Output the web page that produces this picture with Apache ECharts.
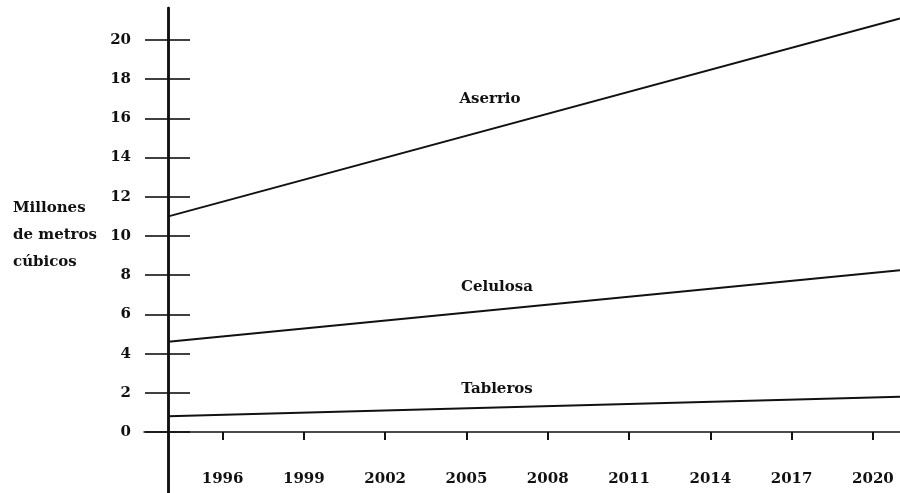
<!DOCTYPE html>
<html>
<head>
<meta charset="utf-8">
<script src="https://cdn.jsdelivr.net/npm/echarts@6/dist/echarts.min.js"></script>
<style>
  html, body { margin: 0; padding: 0; background: #fff; }
  #chart { width: 900px; height: 493px; }
</style>
</head>
<body>
<div id="chart"></div>
<script>
// Projected production (millions of cubic metres), straight trends per sector
const years = [1994, 2021];
const aserrio = [11.0, 21.1];
const celulosa = [4.6, 8.25];
const tableros = [0.8, 1.8];
const seriesNames = ['Aserrio', 'Celulosa', 'Tableros'];

// Axis tick labels
const yearTicks = [1996, 1999, 2002, 2005, 2008, 2011, 2014, 2017, 2020];
const valueTicks = [0, 2, 4, 6, 8, 10, 12, 14, 16, 18, 20];

const FONT = 'DejaVu Serif';
const INK = '#111';

const toPairs = (vals) => years.map((y, i) => [y, vals[i]]);

const chart = echarts.init(document.getElementById('chart'), null, { renderer: 'canvas' });

const lineSeries = [aserrio, celulosa, tableros].map((vals, i) => ({
  name: seriesNames[i],
  type: 'line',
  data: toPairs(vals),
  showSymbol: false,
  symbol: 'none',
  clip: false,
  lineStyle: { color: INK, width: 2 },
  z: 3
}));

const yCommon = {
  type: 'value',
  position: 'left',
  min: -3.11,
  max: 21.63,
  offset: -24,
  splitLine: { show: false },
  axisLine: { show: true, onZero: false, lineStyle: { color: INK, width: 2.5 } }
};

chart.setOption({
  animation: false,
  backgroundColor: '#fff',
  grid: { left: 144, right: 0, top: 8, bottom: 0, containLabel: false, outerBoundsMode: 'none' },
  xAxis: {
    type: 'value',
    position: 'bottom',
    min: 1993.1,
    max: 2021,
    offset: -61,
    splitLine: { show: false },
    axisLine: { show: true, onZero: false, lineStyle: { color: INK, width: 1.5 } },
    axisTick: { show: true, customValues: yearTicks, length: 8, inside: false, lineStyle: { color: INK, width: 2 } },
    axisLabel: {
      customValues: yearTicks,
      margin: 40,
      color: INK,
      fontFamily: FONT,
      fontWeight: 'bold',
      fontSize: 15,
      formatter: (v) => String(v)
    }
  },
  yAxis: [
    Object.assign({}, yCommon, {
      axisTick: { show: true, customValues: valueTicks, length: 23, inside: false, lineStyle: { color: INK, width: 1.6 } },
      axisLabel: {
        customValues: valueTicks,
        margin: 37,
        color: INK,
        fontFamily: FONT,
        fontWeight: 'bold',
        fontSize: 15
      }
    }),
    Object.assign({}, yCommon, {
      axisTick: { show: true, customValues: valueTicks, length: 22, inside: true, lineStyle: { color: INK, width: 1.6 } },
      axisLabel: { show: false }
    })
  ],
  graphic: [
    {
      type: 'text',
      left: 13,
      top: 195,
      style: {
        text: 'Millones\nde metros\ncúbicos',
        font: 'bold 15px "DejaVu Serif"',
        fill: INK,
        lineHeight: 27
      }
    },
    {
      type: 'text', x: 490, y: 99,
      style: { text: seriesNames[0], font: 'bold 15px "DejaVu Serif"', fill: INK, align: 'center', verticalAlign: 'middle' }
    },
    {
      type: 'text', x: 497, y: 287,
      style: { text: seriesNames[1], font: 'bold 15px "DejaVu Serif"', fill: INK, align: 'center', verticalAlign: 'middle' }
    },
    {
      type: 'text', x: 497, y: 389,
      style: { text: seriesNames[2], font: 'bold 15px "DejaVu Serif"', fill: INK, align: 'center', verticalAlign: 'middle' }
    }
  ],
  series: lineSeries
});
</script>
</body>
</html>
